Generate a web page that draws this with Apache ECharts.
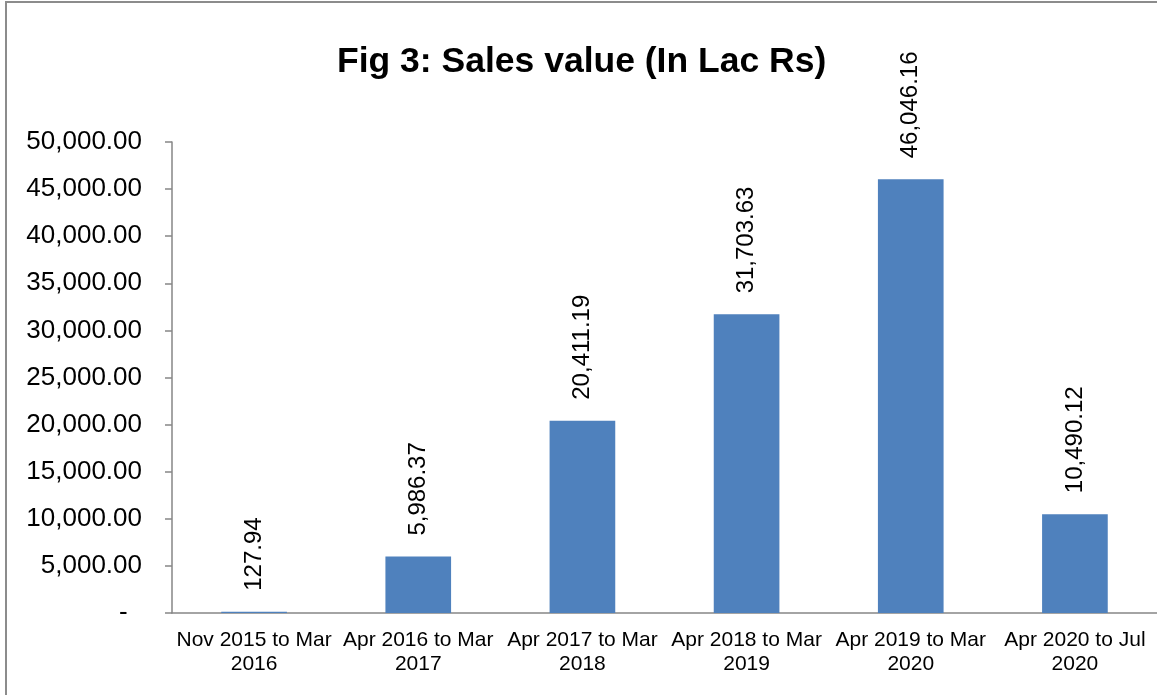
<!DOCTYPE html>
<html>
<head>
<meta charset="utf-8">
<script src="https://cdn.jsdelivr.net/npm/echarts@6/dist/echarts.min.js"></script>
<style>
  html, body { margin: 0; padding: 0; background: #fff; }
  #chart { width: 1157px; height: 695px; }
</style>
</head>
<body>
<div id="chart"></div>
<script>
const categories = [
  'Nov 2015 to Mar\n2016',
  'Apr 2016 to Mar\n2017',
  'Apr 2017 to Mar\n2018',
  'Apr 2018 to Mar\n2019',
  'Apr 2019 to Mar\n2020',
  'Apr 2020 to Jul\n2020'
];
const salesValues = [127.94, 5986.37, 20411.19, 31703.63, 46046.16, 10490.12];

function fmt(v) {
  return v.toLocaleString('en-US', { minimumFractionDigits: 2, maximumFractionDigits: 2 });
}

let myChart = echarts.init(document.getElementById('chart'));
let option = {
  animation: false,
  textStyle: { fontFamily: 'Liberation Sans, Arial, sans-serif', color: '#000' },
  title: {
    text: 'Fig 3: Sales value (In Lac Rs)',
    left: 332,
    top: 39,
    textStyle: { fontSize: 35.5, fontWeight: 'bold', color: '#000', fontFamily: 'Liberation Sans, Arial, sans-serif' }
  },
  graphic: [{
    type: 'rect',
    shape: { x: 6, y: 2, width: 1170, height: 720 },
    style: { fill: 'none', stroke: '#8c8c8c', lineWidth: 2 },
    silent: true
  }],
  grid: { left: 172, right: -1, top: 142, bottom: 82 },
  xAxis: {
    type: 'category',
    data: categories,
    axisLine: { lineStyle: { color: '#868686', width: 1.5 } },
    axisTick: { length: 6, lineStyle: { color: '#868686', width: 1.5 } },
    axisLabel: { fontSize: 21, color: '#000', margin: 15, lineHeight: 24, interval: 0 }
  },
  yAxis: {
    type: 'value',
    min: 0,
    max: 50000,
    interval: 5000,
    splitLine: { show: false },
    axisLine: { show: true, lineStyle: { color: '#868686', width: 1.5 } },
    axisTick: { show: true, length: 7, lineStyle: { color: '#868686', width: 1.5 } },
    axisLabel: {
      fontSize: 26,
      color: '#000',
      margin: 30,
      formatter: function (v) { return v === 0 ? '-  ' : fmt(v); }
    }
  },
  series: [{
    name: 'Sales value',
    type: 'bar',
    data: salesValues,
    barWidth: '40%',
    itemStyle: { color: '#4F81BD' },
    label: {
      show: true,
      position: 'top',
      rotate: 90,
      align: 'left',
      verticalAlign: 'middle',
      distance: 21,
      fontSize: 24,
      color: '#000',
      formatter: function (p) { return fmt(p.value); }
    }
  }]
};
myChart.setOption(option);
</script>
</body>
</html>
